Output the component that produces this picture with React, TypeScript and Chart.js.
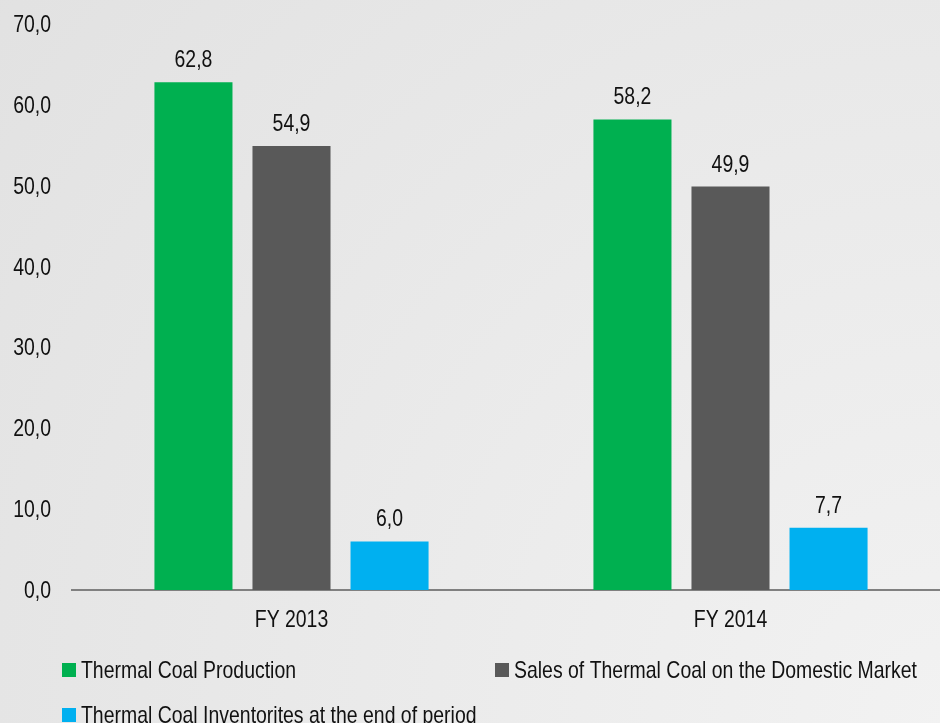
import React, { useEffect, useRef } from "react";
import { Chart, registerables } from "chart.js";

Chart.register(...registerables);

const categories = ["FY 2013", "FY 2014"];
const productionValues = [62.8, 58.2];
const domesticSalesValues = [54.9, 49.9];
const inventoryValues = [6.0, 7.7];
const seriesLabels = [
  "Thermal Coal Production",
  "Sales of Thermal Coal on the Domestic Market",
  "Thermal Coal Inventorites at the end of period",
];
const seriesColors = ["#00b050", "#595959", "#00b0f0"];

const FONT_FAMILY = "'Liberation Sans', Arial, sans-serif";
const FONT_SIZE = 24;
const TEXT_COLOR = "#111111";
// horizontal squeeze to give the narrow typeface look
const NARROW = 0.81;

const formatValue = (v: number) => v.toFixed(1).replace(".", ",");

function drawNarrowText(
  ctx: CanvasRenderingContext2D,
  text: string,
  x: number,
  y: number,
  align: CanvasTextAlign
) {
  ctx.save();
  ctx.translate(x, y);
  ctx.scale(NARROW, 1);
  ctx.font = `${FONT_SIZE}px ${FONT_FAMILY}`;
  ctx.fillStyle = TEXT_COLOR;
  ctx.textAlign = align;
  ctx.textBaseline = "alphabetic";
  ctx.fillText(text, 0, 0);
  ctx.restore();
}

// Soft grey backdrop, lightest toward the lower right
const backgroundPlugin = {
  id: "backdrop",
  beforeDraw(chart: any) {
    const { ctx, width, height } = chart;
    const g = ctx.createRadialGradient(width, height, 0, width, height, 1250);
    g.addColorStop(0, "#f2f2f2");
    g.addColorStop(1, "#e1e1e1");
    ctx.save();
    ctx.fillStyle = g;
    ctx.fillRect(0, 0, width, height);
    ctx.restore();
  },
};

// Axis tick labels drawn with the condensed text style
const axisLabelPlugin = {
  id: "axisLabels",
  afterDraw(chart: any) {
    const { ctx } = chart;
    const y = chart.scales.y;
    y.ticks.forEach((t: any) => {
      drawNarrowText(ctx, formatValue(t.value), 51, y.getPixelForValue(t.value) + 8, "right");
    });
    const x = chart.scales.x;
    chart.data.labels.forEach((label: string, i: number) => {
      drawNarrowText(ctx, label, x.getPixelForTick(i), x.top + 37, "center");
    });
  },
};

// Value labels above each bar
const valueLabelPlugin = {
  id: "valueLabels",
  afterDatasetsDraw(chart: any) {
    const { ctx } = chart;
    chart.data.datasets.forEach((ds: any, di: number) => {
      const meta = chart.getDatasetMeta(di);
      meta.data.forEach((bar: any, i: number) => {
        drawNarrowText(ctx, formatValue(ds.data[i]), bar.x, bar.y - 15, "center");
      });
    });
  },
};

// Two-column legend under the axis
const legendPlugin = {
  id: "gridLegend",
  afterDraw(chart: any) {
    const { ctx } = chart;
    const colX = [62, 495];
    const rowY = [670, 715];
    const box = 14;
    chart.data.datasets.forEach((ds: any, i: number) => {
      const x = colX[i % 2];
      const y = rowY[Math.floor(i / 2)];
      ctx.save();
      ctx.fillStyle = ds.backgroundColor;
      ctx.fillRect(x, y - box / 2, box, box);
      ctx.restore();
      drawNarrowText(ctx, ds.label, x + box + 5, y + 8, "left");
    });
  },
};

export default function App() {
  const canvasRef = useRef<HTMLCanvasElement | null>(null);

  useEffect(() => {
    if (!canvasRef.current) return;
    const values = [productionValues, domesticSalesValues, inventoryValues];
    const chart = new Chart(canvasRef.current, {
      type: "bar",
      data: {
        labels: categories,
        datasets: values.map((data, i) => ({
          label: seriesLabels[i],
          data,
          backgroundColor: seriesColors[i],
          borderWidth: 0,
          categoryPercentage: 0.67,
          barPercentage: 0.796,
        })),
      },
      plugins: [backgroundPlugin, valueLabelPlugin, axisLabelPlugin, legendPlugin],
      options: {
        animation: false,
        responsive: false,
        maintainAspectRatio: false,
        layout: { padding: { top: 24, right: 0, bottom: 0, left: 0 } },
        plugins: {
          legend: { display: false },
          tooltip: { enabled: false },
        },
        scales: {
          x: {
            grid: { display: false },
            border: { display: true, color: "#808080", width: 2 },
            ticks: { display: false },
            afterFit(scale: any) {
              scale.height = 133;
            },
          },
          y: {
            min: 0,
            max: 70,
            grid: { display: false },
            border: { display: false },
            ticks: { display: false, stepSize: 10 },
            afterFit(scale: any) {
              scale.width = 72;
            },
          },
        },
      },
    });
    return () => chart.destroy();
  }, []);

  return (
    <div style={{ position: "fixed", left: 0, top: 0, width: 940, height: 723, overflow: "hidden" }}>
      <canvas ref={canvasRef} width={950} height={723} style={{ display: "block" }} />
    </div>
  );
}
